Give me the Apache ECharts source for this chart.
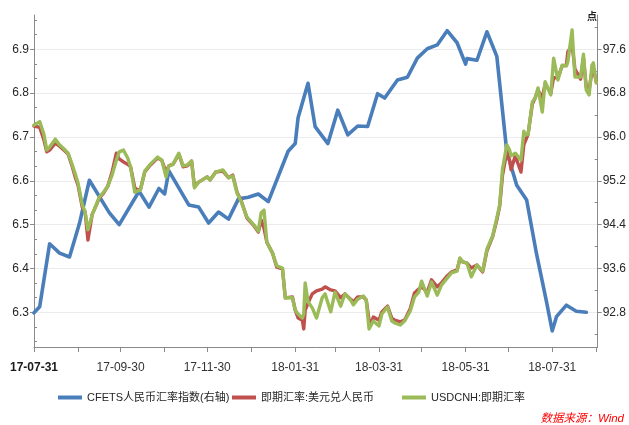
<!DOCTYPE html>
<html>
<head>
<meta charset="utf-8">
<script src="https://cdn.jsdelivr.net/npm/echarts@6/dist/echarts.min.js"></script>
<style>
html,body{margin:0;padding:0;background:#fff;}
#chart{width:629px;height:425px;}
</style>
</head>
<body>
<div id="chart"></div>
<script>
// CFETS RMB index, weekly (right axis)
const cfetsDates = [
  '2017-07-31','2017-08-04','2017-08-11','2017-08-18','2017-08-25','2017-09-01','2017-09-08','2017-09-22','2017-09-29',
  '2017-10-13','2017-10-20','2017-10-27','2017-10-31','2017-11-03','2017-11-17','2017-11-24','2017-12-01','2017-12-08',
  '2017-12-15','2017-12-22','2017-12-29','2018-01-05','2018-01-12','2018-01-26','2018-01-31','2018-02-02','2018-02-09',
  '2018-02-14','2018-02-23','2018-03-02','2018-03-09','2018-03-16','2018-03-23','2018-03-30','2018-04-04','2018-04-13',
  '2018-04-20','2018-04-27','2018-05-04','2018-05-11','2018-05-18','2018-05-25','2018-05-31','2018-06-01','2018-06-08',
  '2018-06-15','2018-06-22','2018-06-29','2018-07-06','2018-07-13','2018-07-20','2018-07-27','2018-07-31','2018-08-03',
  '2018-08-10','2018-08-17','2018-08-24'
];
const cfetsValues = [
  92.79,92.90,94.05,93.88,93.81,94.42,95.21,94.62,94.40,
  95.01,94.72,95.06,94.96,95.38,94.76,94.72,94.43,94.63,
  94.50,94.87,94.90,94.96,94.82,95.74,95.88,96.35,96.98,
  96.19,95.88,96.49,96.04,96.20,96.19,96.79,96.71,97.04,
  97.09,97.44,97.61,97.68,97.94,97.72,97.33,97.43,97.40,
  97.92,97.47,95.73,95.12,94.85,93.86,92.99,92.46,92.72,
  92.93,92.82,92.80
];

// Spot USD/CNY and USD/CNH (left axis)
const spotDates = [
  '2017-07-31','2017-08-04','2017-08-07','2017-08-09','2017-08-11','2017-08-15','2017-08-18','2017-08-21','2017-08-24','2017-08-27','2017-08-29','2017-08-31',
  '2017-09-03','2017-09-05','2017-09-07','2017-09-10','2017-09-13','2017-09-15','2017-09-18','2017-09-21','2017-09-24','2017-09-27','2017-09-29',
  '2017-10-02','2017-10-05','2017-10-07','2017-10-10','2017-10-12','2017-10-14','2017-10-17','2017-10-21','2017-10-26','2017-10-29',
  '2017-11-01','2017-11-03','2017-11-06','2017-11-10','2017-11-13','2017-11-16','2017-11-19','2017-11-21','2017-11-24','2017-11-30',
  '2017-12-02','2017-12-06','2017-12-11','2017-12-15','2017-12-18','2017-12-21','2017-12-24','2017-12-28',
  '2018-01-02','2018-01-05','2018-01-07','2018-01-09','2018-01-11','2018-01-15','2018-01-18','2018-01-22','2018-01-24','2018-01-29','2018-01-31',
  '2018-02-02','2018-02-05','2018-02-06','2018-02-07','2018-02-09','2018-02-12','2018-02-15','2018-02-19','2018-02-21','2018-02-25','2018-02-28',
  '2018-03-04','2018-03-07','2018-03-11','2018-03-13','2018-03-16','2018-03-20','2018-03-22','2018-03-24','2018-03-25','2018-03-27','2018-03-31',
  '2018-04-02','2018-04-06','2018-04-09','2018-04-11','2018-04-15','2018-04-18','2018-04-22','2018-04-25','2018-04-28','2018-04-30',
  '2018-05-04','2018-05-07','2018-05-11','2018-05-14','2018-05-18','2018-05-21','2018-05-25','2018-05-27','2018-05-29',
  '2018-06-01','2018-06-04','2018-06-08','2018-06-12','2018-06-13','2018-06-15','2018-06-19','2018-06-22','2018-06-24','2018-06-26','2018-06-29',
  '2018-07-01','2018-07-02','2018-07-05','2018-07-09','2018-07-11','2018-07-12','2018-07-14','2018-07-17','2018-07-19','2018-07-21','2018-07-24','2018-07-26','2018-07-30',
  '2018-08-01','2018-08-04','2018-08-07','2018-08-10','2018-08-11','2018-08-14','2018-08-16','2018-08-20','2018-08-22','2018-08-24','2018-08-26','2018-08-28','2018-08-29','2018-08-31'
];
const usdcnyValues = [
  6.725,6.722,6.693,6.666,6.670,6.686,6.679,6.670,6.661,6.632,6.609,6.590,
  6.540,6.529,6.465,6.524,6.545,6.561,6.572,6.588,6.620,6.663,6.650,
  6.643,6.638,6.632,6.584,6.579,6.581,6.620,6.636,6.652,6.647,
  6.620,6.634,6.638,6.661,6.632,6.634,6.645,6.588,6.597,6.609,
  6.602,6.620,6.622,6.607,6.613,6.574,6.554,6.515,
  6.497,6.483,6.511,6.492,6.460,6.435,6.403,6.399,6.333,6.335,6.305,
  6.287,6.282,6.262,6.305,6.321,6.342,6.349,6.353,6.358,6.351,6.349,
  6.333,6.342,6.330,6.324,6.335,6.335,6.328,6.282,6.271,6.289,6.282,
  6.301,6.314,6.287,6.282,6.278,6.282,6.308,6.344,6.353,6.358,
  6.346,6.374,6.358,6.367,6.383,6.392,6.397,6.422,6.415,
  6.412,6.401,6.408,6.392,6.394,6.440,6.472,6.511,6.542,6.613,6.666,
  6.647,6.625,6.657,6.620,6.682,6.686,6.706,6.775,6.789,6.807,6.789,6.821,6.800,
  6.835,6.835,6.862,6.864,6.894,6.910,6.855,6.832,6.880,6.814,6.807,6.850,6.857,6.826
];
const usdcnhValues = [
  6.727,6.735,6.706,6.670,6.677,6.695,6.682,6.673,6.663,6.636,6.616,6.595,
  6.545,6.529,6.488,6.522,6.547,6.563,6.574,6.588,6.613,6.647,6.666,
  6.670,6.652,6.632,6.574,6.577,6.579,6.622,6.638,6.654,6.647,
  6.609,6.634,6.638,6.663,6.634,6.636,6.645,6.584,6.597,6.609,
  6.602,6.620,6.625,6.607,6.611,6.572,6.552,6.517,
  6.499,6.485,6.527,6.533,6.460,6.435,6.406,6.401,6.333,6.333,6.305,
  6.296,6.287,6.296,6.367,6.324,6.310,6.287,6.333,6.342,6.301,6.346,
  6.314,6.342,6.328,6.317,6.330,6.337,6.328,6.262,6.260,6.280,6.269,
  6.296,6.312,6.280,6.276,6.271,6.280,6.303,6.335,6.346,6.371,
  6.337,6.369,6.339,6.362,6.378,6.390,6.394,6.424,6.415,
  6.412,6.381,6.408,6.394,6.390,6.444,6.474,6.515,6.545,6.627,6.682,
  6.670,6.657,6.663,6.647,6.713,6.704,6.706,6.780,6.789,6.812,6.757,6.826,6.796,
  6.880,6.830,6.864,6.862,6.871,6.944,6.837,6.837,6.889,6.807,6.796,6.864,6.869,6.823
];

// Axis tick labels
const leftTicks = [6.3, 6.4, 6.5, 6.6, 6.7, 6.8, 6.9];
const rightTicks = [92.8, 93.6, 94.4, 95.2, 96.0, 96.8, 97.6];
const monthEnds = [
  '2017-07-31','2017-08-31','2017-09-30','2017-10-31','2017-11-30','2017-12-31','2018-01-31',
  '2018-02-28','2018-03-31','2018-04-30','2018-05-31','2018-06-30','2018-07-31','2018-08-31'
];
const labelDates = ['2017-07-31','2017-09-30','2017-11-30','2018-01-31','2018-03-31','2018-05-31','2018-07-31'];

const seriesNames = ['CFETS人民币汇率指数(右轴)', '即期汇率:美元兑人民币', 'USDCNH:即期汇率'];
const colors = ['#4a7ebb', '#c0504d', '#9bbb59'];

const FONT = "'Liberation Sans','Noto Sans CJK SC',sans-serif";
const AXIS_COLOR = '#8a8a8a';
const LEFT_MIN = 6.2208, LEFT_MAX = 6.9783;
const RIGHT_MIN = 92.1664, RIGHT_MAX = 98.2264;

function ts(s) {
  const p = s.split('-').map(Number);
  return Date.UTC(p[0], p[1] - 1, p[2]);
}
function fmtDate(v) {
  const d = new Date(v);
  const y = String(d.getUTCFullYear()).slice(2);
  const m = String(d.getUTCMonth() + 1).padStart(2, '0');
  const dd = String(d.getUTCDate()).padStart(2, '0');
  return y + '-' + m + '-' + dd;
}
function pairs(dates, vals) {
  return dates.map((d, i) => [ts(d), vals[i]]);
}

// minor ticks: thirds between left majors, halves between right majors
const leftMinor = [];
for (let i = -1; i < leftTicks.length; i++) {
  const base = i < 0 ? leftTicks[0] - 0.1 : leftTicks[i];
  for (let k = 1; k <= 2; k++) {
    const v = +(base + k * 0.1 / 3).toFixed(4);
    if (v > LEFT_MIN && v < LEFT_MAX) leftMinor.push(v);
  }
}
const rightMinor = [];
for (let i = -1; i < rightTicks.length; i++) {
  const base = i < 0 ? rightTicks[0] - 0.8 : rightTicks[i];
  const v = +(base + 0.4).toFixed(2);
  if (v > RIGHT_MIN && v < RIGHT_MAX) rightMinor.push(v);
}

const chart = echarts.init(document.getElementById('chart'), null, { renderer: 'canvas' });

const legendCommon = {
  orient: 'horizontal',
  top: 392,
  padding: 0,
  icon: 'rect',
  itemWidth: 24,
  itemHeight: 4,
  selectedMode: false,
  textStyle: { fontSize: 11, color: '#262626', fontFamily: FONT }
};

const lineBase = (idx, width) => ({
  name: seriesNames[idx],
  type: 'line',
  symbol: 'none',
  showSymbol: false,
  lineStyle: { width: width, color: colors[idx], cap: 'round', join: 'round' },
  itemStyle: { color: colors[idx] },
  emphasis: { disabled: true },
  z: 2 + idx
});

chart.setOption({
  animation: false,
  backgroundColor: '#ffffff',
  grid: { left: 34, right: 31, top: 15, bottom: 78, containLabel: false },
  xAxis: {
    type: 'value',
    min: ts('2017-07-31'),
    max: ts('2018-09-01'),
    axisLine: { show: true, onZero: false, lineStyle: { color: AXIS_COLOR, width: 1 } },
    axisTick: {
      show: true, inside: false, length: 5,
      customValues: monthEnds.map(ts),
      lineStyle: { color: AXIS_COLOR, width: 1 }
    },
    axisLabel: {
      show: true,
      margin: 15,
      customValues: labelDates.map(ts),
      formatter: function (v) {
        const s = fmtDate(v);
        return v === ts(labelDates[0]) ? '{b|' + s + '}' : '{n|' + s + '}';
      },
      rich: {
        b: { fontSize: 12, fontWeight: 'bold', color: '#1a1a1a', fontFamily: FONT },
        n: { fontSize: 12, color: '#333333', fontFamily: FONT }
      }
    },
    splitLine: { show: false }
  },
  yAxis: [
    {
      type: 'value',
      position: 'left',
      min: LEFT_MIN,
      max: LEFT_MAX,
      axisLine: { show: true, onZero: false, lineStyle: { color: AXIS_COLOR, width: 1 } },
      axisTick: { show: true, inside: false, length: 4, customValues: leftTicks, lineStyle: { color: AXIS_COLOR } },
      axisLabel: {
        show: true, margin: 5, customValues: leftTicks,
        formatter: v => v.toFixed(1),
        fontSize: 12, color: '#262626', fontFamily: FONT
      },
      splitLine: { show: true, lineStyle: { color: '#ebebeb', width: 1 } }
    },
    {
      type: 'value',
      position: 'right',
      min: RIGHT_MIN,
      max: RIGHT_MAX,
      axisLine: { show: true, onZero: false, lineStyle: { color: AXIS_COLOR, width: 1 } },
      axisTick: { show: true, inside: false, length: 4, customValues: rightTicks, lineStyle: { color: AXIS_COLOR } },
      axisLabel: {
        show: true, margin: 5, customValues: rightTicks,
        formatter: v => v.toFixed(1),
        fontSize: 12, color: '#262626', fontFamily: FONT
      },
      splitLine: { show: false }
    },
    {
      type: 'value',
      position: 'left',
      min: LEFT_MIN,
      max: LEFT_MAX,
      axisLine: { show: false },
      axisTick: { show: true, inside: true, length: 3, customValues: leftMinor, lineStyle: { color: AXIS_COLOR } },
      axisLabel: { show: false },
      splitLine: { show: false }
    },
    {
      type: 'value',
      position: 'right',
      min: RIGHT_MIN,
      max: RIGHT_MAX,
      axisLine: { show: false },
      axisTick: { show: true, inside: true, length: 3, customValues: rightMinor, lineStyle: { color: AXIS_COLOR } },
      axisLabel: { show: false },
      splitLine: { show: false }
    }
  ],
  legend: [
    Object.assign({ data: [seriesNames[0]], left: 58 }, legendCommon),
    Object.assign({ data: [seriesNames[1]], left: 232 }, legendCommon),
    Object.assign({ data: [seriesNames[2]], left: 402 }, legendCommon)
  ],
  graphic: [
    {
      type: 'text',
      x: 592, y: 16,
      style: {
        text: '点', fill: '#222222',
        font: "bold 10px 'Noto Sans CJK SC',sans-serif",
        textAlign: 'center', align: 'center',
        textVerticalAlign: 'middle', verticalAlign: 'middle'
      }
    },
    {
      type: 'text',
      x: 624, y: 419,
      style: {
        text: '数据来源：Wind', fill: '#ff0000',
        font: "italic 11.5px 'Liberation Sans','Noto Sans CJK SC',sans-serif",
        textAlign: 'right', align: 'right',
        textVerticalAlign: 'middle', verticalAlign: 'middle'
      }
    }
  ],
  series: [
    Object.assign(lineBase(0, 3.6), { yAxisIndex: 1, data: pairs(cfetsDates, cfetsValues) }),
    Object.assign(lineBase(1, 3.4), { yAxisIndex: 0, data: pairs(spotDates, usdcnyValues) }),
    Object.assign(lineBase(2, 3.4), { yAxisIndex: 0, data: pairs(spotDates, usdcnhValues) })
  ]
});
</script>
</body>
</html>
